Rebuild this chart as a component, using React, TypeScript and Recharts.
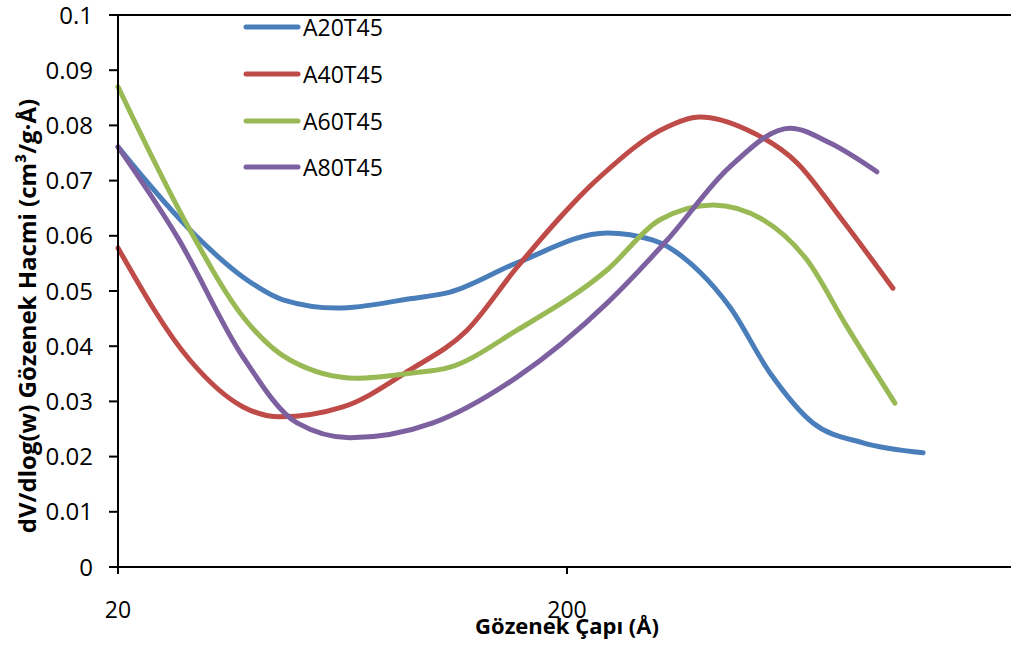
import React from 'react'
import {
  LineChart, Line, XAxis, YAxis, ReferenceLine,
} from 'recharts'

// pore diameter (Å) and dV/dlog(w), per series
const a20Diam = [20, 29.4, 38.0, 46.6, 61.5, 89.4, 109.8, 154.8, 245.6, 310.8, 395.7, 461, 567, 706, 913, 1242]
const a20Vals = [0.0761, 0.0605, 0.0525, 0.0484, 0.0469, 0.0486, 0.0498, 0.0551, 0.0605, 0.0592, 0.0534, 0.0471, 0.0351, 0.0261, 0.0225, 0.0207]

const a40Diam = [20, 28.9, 38.0, 45.9, 63.4, 89.4, 119.8, 154.8, 237, 334, 395.7, 503, 651, 811, 1064]
const a40Vals = [0.0578, 0.0375, 0.029, 0.0272, 0.029, 0.0357, 0.0429, 0.0543, 0.0707, 0.0797, 0.0815, 0.0792, 0.0732, 0.0634, 0.0505]

const a60Diam = [20, 28.9, 38.0, 48.3, 68.1, 89.4, 109.8, 154.8, 245.6, 322, 422.8, 547, 685, 841, 1075]
const a60Vals = [0.087, 0.0611, 0.0453, 0.0375, 0.0342, 0.0351, 0.0362, 0.0429, 0.0538, 0.0629, 0.0656, 0.0629, 0.0556, 0.0435, 0.0297]

const a80Diam = [20, 27.1, 38.0, 50.1, 65.7, 100.6, 154.8, 245.6, 334, 461, 628, 771, 980]
const a80Vals = [0.0761, 0.0598, 0.038, 0.0261, 0.0234, 0.0261, 0.0344, 0.0478, 0.0592, 0.0725, 0.0795, 0.0768, 0.0716]

const seriesNames = ['A20T45', 'A40T45', 'A60T45', 'A80T45']
const seriesColors = ['#4A7EBB', '#BE4B48', '#98B954', '#7D60A0']

const yTicks = [0, 0.01, 0.02, 0.03, 0.04, 0.05, 0.06, 0.07, 0.08, 0.09, 0.1]
const xTicks = [20, 200]

const toRows = (d: number[], v: number[]) => d.map((x, i) => ({ d: x, v: v[i] }))
const seriesData = [
  toRows(a20Diam, a20Vals),
  toRows(a40Diam, a40Vals),
  toRows(a60Diam, a60Vals),
  toRows(a80Diam, a80Vals),
]

const FONT = '"Open Sans", sans-serif'

function ChartLegend() {
  return (
    <div style={{ position: 'absolute', left: 243, top: 4, fontFamily: FONT, fontSize: 23, color: '#000' }}>
      {seriesNames.map((name, i) => (
        <div key={name} style={{ height: 46.7, display: 'flex', alignItems: 'center' }}>
          <svg width={58} height={8} style={{ marginRight: 2 }}>
            <line x1={3} y1={4} x2={55} y2={4} stroke={seriesColors[i]} strokeWidth={5} strokeLinecap="round" />
          </svg>
          <span>{name}</span>
        </div>
      ))}
    </div>
  )
}

export default function App() {
  return (
    <div style={{ position: 'absolute', left: 0, top: 0, width: 1011, height: 646, overflow: 'hidden', background: '#fff' }}>
      <LineChart width={1030} height={646} margin={{ top: 15, right: 14, bottom: 0, left: 0 }}>
        <XAxis
          dataKey="d"
          type="number"
          scale="log"
          domain={[20, 2000]}
          ticks={xTicks}
          interval={0}
          allowDuplicatedCategory={false}
          height={79}
          tickSize={7}
          tickMargin={28}
          axisLine={{ stroke: '#000', strokeWidth: 2 }}
          tickLine={{ stroke: '#000', strokeWidth: 2 }}
          tick={{ fontSize: 23, fill: '#000', fontFamily: FONT }}
          label={{
            content: () => (
              <text x={567} y={634} textAnchor="middle" fontFamily={FONT} fontWeight="bold" fontSize={22} fill="#000">
                Gözenek Çapı (Å)
              </text>
            ),
          }}
        />
        <YAxis
          type="number"
          domain={[0, 0.1]}
          ticks={yTicks}
          interval={0}
          width={118}
          tickSize={9}
          tickMargin={16}
          axisLine={{ stroke: '#000', strokeWidth: 2 }}
          tickLine={{ stroke: '#000', strokeWidth: 2 }}
          tick={{ fontSize: 24, fill: '#000', fontFamily: FONT }}
          label={{
            content: () => (
              <text
                x={26}
                y={316}
                transform="rotate(-90 26 316)"
                textAnchor="middle"
                dominantBaseline="central"
                fontFamily={FONT}
                fontWeight="bold"
                fontSize={24}
                fill="#000"
              >
                dV/dlog(w) Gözenek Hacmi (cm³/g·Å)
              </text>
            ),
          }}
        />
        <ReferenceLine y={0.1} stroke="#000" strokeWidth={2} />
        {seriesNames.map((name, i) => (
          <Line
            key={name}
            name={name}
            data={seriesData[i]}
            dataKey="v"
            type="monotone"
            stroke={seriesColors[i]}
            strokeWidth={5}
            strokeLinecap="round"
            dot={false}
            activeDot={false}
            isAnimationActive={false}
          />
        ))}
      </LineChart>
      <ChartLegend />
    </div>
  )
}
